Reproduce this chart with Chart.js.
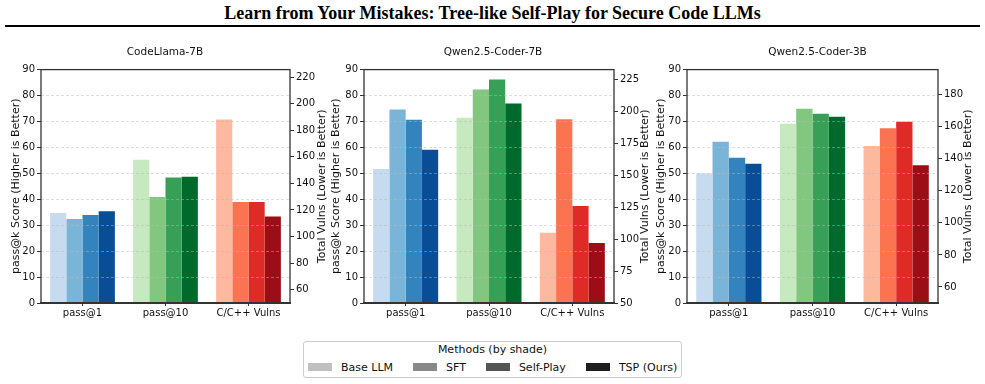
<!DOCTYPE html>
<html>
<head>
<meta charset="UTF-8"/>
<title>Learn from Your Mistakes</title>
<script src="https://cdn.jsdelivr.net/npm/chart.js@4.4.1/dist/chart.umd.min.js"></script>
<style>
    body { margin: 0; width: 985px; height: 384px; background: #fff; position: relative; overflow: hidden; font-family: "DejaVu Sans", sans-serif; color: #111; }
    #mainTitle { position: absolute; left: 0; top: 3px; width: 985px; text-align: center; font: bold 18px "Liberation Serif", serif; color: #000; }
    #titleRule { position: absolute; left: 5px; top: 25px; width: 975px; border-top: 2px solid #000; }
    .panel { position: absolute; top: 36px; }
    #legend { position: absolute; left: 303px; top: 341px; width: 377px; height: 35px; border: 1px solid #ccc; border-radius: 3px; font-size: 11px; white-space: nowrap; }
    #legend .lt { text-align: center; margin-top: 1px; height: 14px; line-height: 14px; }
    #legend .row { display: flex; align-items: center; padding-left: 4px; margin-top: 3px; height: 14px; }
    #legend .item { display: flex; align-items: center; flex-shrink: 0; margin-right: 20px; }
    #legend .item:last-child { margin-right: 0; }
    #legend .sw { width: 24px; height: 8px; margin-right: 9px; flex-shrink: 0; }
</style>
</head>
<body>
<div id="mainTitle">Learn from Your Mistakes: Tree-like Self-Play for Secure Code LLMs</div>
<div id="titleRule"></div>
<canvas id="c0" class="panel" width="330" height="290" style="left:0px"></canvas>
<canvas id="c1" class="panel" width="334" height="290" style="left:326px"></canvas>
<canvas id="c2" class="panel" width="335" height="290" style="left:650px"></canvas>
<div id="legend">
    <div class="lt">Methods (by shade)</div>
    <div class="row" id="legendRow"></div>
</div>
<script>
    // data
    var categories = ['pass@1', 'pass@10', 'C/C++ Vulns'];
    var methods = ['Base LLM', 'SFT', 'Self-Play', 'TSP (Ours)'];
    var models = ['CodeLlama-7B', 'Qwen2.5-Coder-7B', 'Qwen2.5-Coder-3B'];

    // one row per model, one value per method
    var pass1 = [[34.7, 32.4, 33.9, 35.4], [51.7, 74.6, 70.7, 59.1], [49.9, 62.2, 56.0, 53.7]];
    var pass10 = [[55.2, 40.9, 48.4, 48.7], [71.4, 82.3, 86.2, 76.9], [69.1, 74.9, 73.0, 71.8]];
    var vulns = [[188, 126, 126, 115], [105, 194, 126, 97], [148, 159, 163, 136]];

    var scoreTicks = [0, 10, 20, 30, 40, 50, 60, 70, 80, 90];
    var vulnTicks = [
        [60, 80, 100, 120, 140, 160, 180, 200, 220],
        [50, 75, 100, 125, 150, 175, 200, 225],
        [60, 80, 100, 120, 140, 160, 180]
    ];

    // colours
    var blues = ['#c6dbef', '#7ab5d9', '#3383be', '#084d96'];
    var greens = ['#c7e9c0', '#81c77f', '#36a156', '#006a2d'];
    var reds = ['#fcb9a0', '#fc7352', '#de2b26', '#9b0e16'];
    var shades = ['#c0c0c0', '#888888', '#555555', '#1e1e1e'];

    // per panel layout (axis box widths, title offsets)
    var panels = [
        {axisL: 41, axisR: 40, titleL: 10, titleR: 8},
        {axisL: 38, axisR: 46, titleL: 4, titleR: 15},
        {axisL: 37, axisR: 47, titleL: 5, titleR: 17}
    ];

    var textColor = '#111';
    var tickFont = {family: 'DejaVu Sans', size: 10};
    var labelFont = {family: 'DejaVu Sans', size: 11};

    // legend
    var row = document.getElementById('legendRow');
    methods.forEach(function (m, j) {
        var it = document.createElement('div');
        it.className = 'item';
        it.innerHTML = '<div class="sw" style="background:' + shades[j] + '"></div><span>' + m + '</span>';
        row.appendChild(it);
    });

    // box around plot area, bottom spine a bit heavier
    var framePlugin = {
        id: 'frame',
        afterDraw: function (chart) {
            var a = chart.chartArea, ctx = chart.ctx;
            ctx.save();
            ctx.strokeStyle = '#333';
            ctx.lineWidth = 1.3;
            ctx.strokeRect(a.left, a.top, a.right - a.left, a.bottom - a.top);
            ctx.lineWidth = 2;
            ctx.beginPath();
            ctx.moveTo(a.left - 1, a.bottom);
            ctx.lineTo(a.right + 1, a.bottom);
            ctx.stroke();
            ctx.restore();
        }
    };

    // right axis title, reading bottom to top like the left one
    var rightTitlePlugin = {
        id: 'rightTitle',
        afterDraw: function (chart, args, opts) {
            var a = chart.chartArea, ctx = chart.ctx;
            ctx.save();
            ctx.translate(chart.width - opts.offset, (a.top + a.bottom) / 2);
            ctx.rotate(-Math.PI / 2);
            ctx.font = '11px "DejaVu Sans"';
            ctx.fillStyle = textColor;
            ctx.textAlign = 'center';
            ctx.textBaseline = 'middle';
            ctx.fillText(opts.text, 0, 0);
            ctx.restore();
        }
    };

    function makeChart(i) {
        var p = panels[i];
        var datasets = [];
        methods.forEach(function (m, j) {
            datasets.push({
                label: m,
                yAxisID: 'y',
                data: [pass1[i][j], pass10[i][j], null],
                backgroundColor: [blues[j], greens[j], reds[j]]
            });
        });
        methods.forEach(function (m, j) {
            datasets.push({
                label: m,
                yAxisID: 'y1',
                data: [null, null, vulns[i][j]],
                backgroundColor: reds[j]
            });
        });

        new Chart(document.getElementById('c' + i), {
            type: 'bar',
            data: {labels: categories, datasets: datasets},
            plugins: [framePlugin, rightTitlePlugin],
            options: {
                responsive: false,
                animation: false,
                devicePixelRatio: 1,
                layout: {padding: 0},
                datasets: {bar: {skipNull: true, categoryPercentage: 0.78, barPercentage: 1.0, borderWidth: 0}},
                plugins: {
                    legend: {display: false},
                    tooltip: {enabled: false},
                    title: {
                        display: true,
                        text: models[i],
                        color: textColor,
                        font: {family: 'DejaVu Sans', size: 10.5, weight: 'normal'},
                        padding: {top: 10, bottom: 11}
                    },
                    rightTitle: {text: 'Total Vulns (Lower is Better)', offset: p.titleR}
                },
                scales: {
                    x: {
                        type: 'category',
                        offset: true,
                        grid: {offset: false, drawOnChartArea: false, tickLength: 3, tickColor: '#333', tickWidth: 1},
                        border: {display: false},
                        ticks: {font: tickFont, color: textColor, padding: 1},
                        afterFit: function (s) { s.height = 23; }
                    },
                    y: {
                        position: 'left',
                        min: 0,
                        max: 90,
                        afterBuildTicks: function (s) { s.ticks = scoreTicks.map(function (v) { return {value: v}; }); },
                        grid: {
                            z: 1,
                            color: function (ctx) {
                                var v = ctx.tick && ctx.tick.value;
                                return (v === 0 || v === 90) ? 'rgba(0,0,0,0)' : 'rgba(185,185,185,0.6)';
                            },
                            lineWidth: 0.8,
                            tickColor: '#333',
                            tickWidth: 1,
                            tickLength: 4
                        },
                        border: {display: false, dash: [3, 2]},
                        ticks: {font: tickFont, color: textColor, padding: 2},
                        title: {
                            display: true,
                            text: 'pass@k Score (Higher is Better)',
                            color: textColor,
                            font: labelFont,
                            padding: {top: p.titleL, bottom: 0}
                        },
                        afterFit: function (s) { s.width = p.axisL; }
                    },
                    y1: {
                        position: 'right',
                        min: 50,
                        max: Math.max.apply(null, vulns[i]) * 1.2,
                        afterBuildTicks: function (s) { s.ticks = vulnTicks[i].map(function (v) { return {value: v}; }); },
                        grid: {drawOnChartArea: false, tickColor: '#333', tickWidth: 1, tickLength: 4},
                        border: {display: false},
                        ticks: {font: tickFont, color: textColor, padding: 2},
                        afterFit: function (s) { s.width = p.axisR; }
                    }
                }
            }
        });
    }

    for (var i = 0; i < models.length; i++) {
        makeChart(i);
    }
</script>
</body>
</html>
